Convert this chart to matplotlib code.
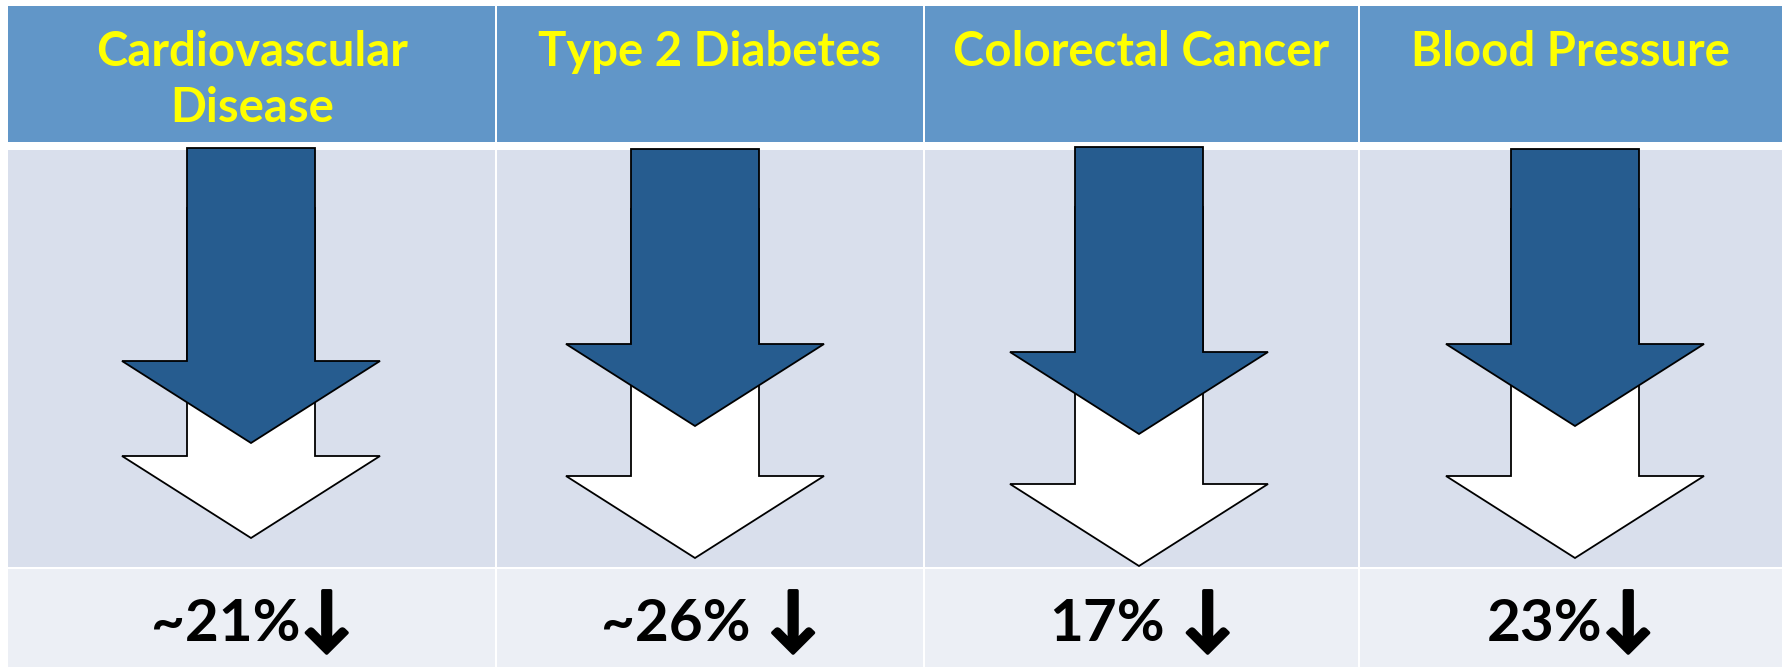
import matplotlib.pyplot as plt
import matplotlib.patheffects as pe
from matplotlib.patches import Rectangle, Polygon

# table content
categories = ["Cardiovascular\nDisease", "Type 2 Diabetes", "Colorectal Cancer", "Blood Pressure"]
reduction_pct = [21, 26, 17, 23]
approx = [True, True, False, False]
arrow_gap = ["", " ", " ", ""]

# layout in pixels (y grows downward)
col_edges = [8, 496, 924, 1359, 1782]
row_edges = [6, 146, 568, 667]
arrow_cx = [251, 695, 1139, 1575]
arrow_top = [148, 149, 147, 149]
dark_tip = [443, 426, 434, 426]
white_tip = [538, 558, 566, 558]

SHAFT_W = 128
HEAD_W = 258
HEAD_H = 82

HEADER_C = "#6196C8"
MID_C = "#D9DFEC"
BOTTOM_C = "#ECEFF5"
ARROW_C = "#265C8F"

plt.rcParams['font.family'] = ['Lato', 'DejaVu Sans']

fig = plt.figure(figsize=(17.88, 6.72), dpi=100)
ax = fig.add_axes([0, 0, 1, 1])
ax.set_xlim(0, 1788)
ax.set_ylim(672, 0)
ax.axis('off')


def down_arrow(cx, top, tip, face):
    base = tip - HEAD_H
    pts = [(cx - SHAFT_W / 2, top), (cx - SHAFT_W / 2, base), (cx - HEAD_W / 2, base),
           (cx, tip), (cx + HEAD_W / 2, base), (cx + SHAFT_W / 2, base),
           (cx + SHAFT_W / 2, top)]
    return Polygon(pts, closed=True, facecolor=face, edgecolor="black", linewidth=1.3)


row_gaps = [[0, 4], [4, 1.3], [1.3, 0]]
row_cols = [HEADER_C, MID_C, BOTTOM_C]
for r in range(3):
    y0 = row_edges[r] + row_gaps[r][0]
    y1 = row_edges[r + 1] - row_gaps[r][1]
    for c in range(4):
        x0 = col_edges[c] + (1.3 if c > 0 else 0)
        x1 = col_edges[c + 1] - (1.3 if c < 3 else 0)
        ax.add_patch(Rectangle((x0, y0), x1 - x0, y1 - y0, facecolor=row_cols[r],
                               edgecolor="none"))

labels = []
for c in range(4):
    cx_col = (col_edges[c] + col_edges[c + 1]) / 2
    for i, line in enumerate(categories[c].split("\n")):
        ax.text(cx_col, 66 + i * 56, line, ha='center', va='baseline',
                fontsize=34, fontweight='bold', color="#FFFF00")

    ax.add_patch(down_arrow(arrow_cx[c], arrow_top[c] + 60, white_tip[c], "white"))
    ax.add_patch(down_arrow(arrow_cx[c], arrow_top[c], dark_tip[c], ARROW_C))

    num = ("~" if approx[c] else "") + f"{reduction_pct[c]}%"
    t1 = ax.text(0, 641, num, ha='left', va='baseline',
                 fontsize=42, fontweight='bold', color="black")
    t2 = ax.text(0, 641, arrow_gap[c] + "\u2193", ha='left', va='baseline',
                 fontsize=50, fontweight='bold', color="black",
                 path_effects=[pe.withStroke(linewidth=2.5, foreground="black")])
    labels.append((cx_col, t1, t2))

# centre each "value + arrow" pair in its column
fig.canvas.draw()
r = fig.canvas.get_renderer()
for cx_col, t1, t2 in labels:
    w1 = t1.get_window_extent(r).width
    w2 = t2.get_window_extent(r).width
    x0 = cx_col - (w1 + w2) / 2
    t1.set_x(x0)
    t2.set_x(x0 + w1)

fig.savefig("out.png", dpi=100)
